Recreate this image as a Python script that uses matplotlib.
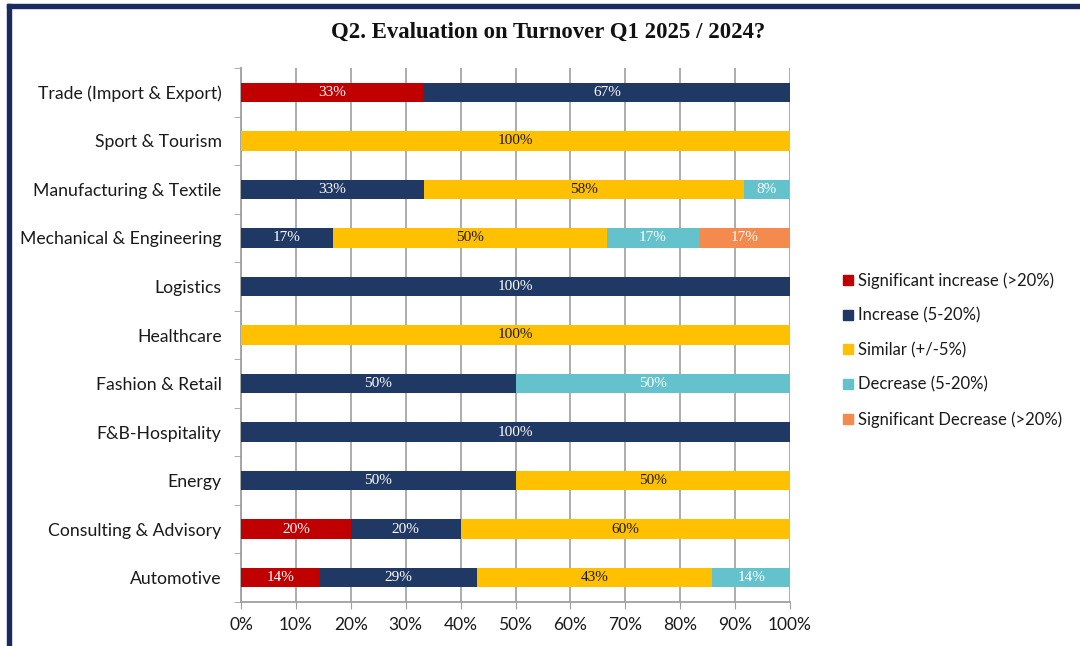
import matplotlib
matplotlib.use("Agg")
import matplotlib.pyplot as plt
from matplotlib.patches import Rectangle
from matplotlib.lines import Line2D
import numpy as np

categories = [
    "Trade (Import & Export)",
    "Sport & Tourism",
    "Manufacturing & Textile",
    "Mechanical & Engineering",
    "Logistics",
    "Healthcare",
    "Fashion & Retail",
    "F&B-Hospitality",
    "Energy",
    "Consulting & Advisory",
    "Automotive",
]

series_names = [
    "Significant increase (>20%)",
    "Increase (5-20%)",
    "Similar (+/-5%)",
    "Decrease (5-20%)",
    "Significant Decrease (>20%)",
]

sig_increase = [33.3, 0, 0, 0, 0, 0, 0, 0, 0, 20, 14.3]
increase = [66.7, 0, 33.3, 16.7, 100, 0, 50, 100, 50, 20, 28.6]
similar = [0, 100, 58.3, 50, 0, 100, 0, 0, 50, 60, 42.9]
decrease = [0, 0, 8.3, 16.7, 0, 0, 50, 0, 0, 0, 14.3]
sig_decrease = [0, 0, 0, 16.7, 0, 0, 0, 0, 0, 0, 0]

colors = ["#C00000", "#1F3864", "#FFC000", "#63C2CB", "#F58A4F"]
text_colors = ["white", "white", "#1a1a1a", "white", "white"]

x_ticks = [0, 10, 20, 30, 40, 50, 60, 70, 80, 90, 100]
x_tick_labels = [f"{t}%" for t in x_ticks]

label_font = "Lato"
value_font = "Liberation Serif"
ink = "#1a1a1a"

fig = plt.figure(figsize=(10.8, 6.46), dpi=100)
ax = fig.add_axes([241 / 1080, 1 - 602 / 646, 549 / 1080, 534 / 646])

y = np.arange(len(categories))
left = np.zeros(len(categories))
all_series = [sig_increase, increase, similar, decrease, sig_decrease]
for vals, name, col, tcol in zip(all_series, series_names, colors, text_colors):
    vals = np.array(vals, dtype=float)
    ax.barh(y, vals, left=left, height=0.4, color=col, label=name,
            zorder=3, linewidth=0)
    for yi, v, l in zip(y, vals, left):
        if v > 0:
            ax.text(l + v / 2, yi, f"{v:.0f}%", ha="center", va="center",
                    color=tcol, fontsize=11, family=value_font, zorder=4)
    left += vals

ax.set_xlim(0, 100)
ax.set_ylim(len(categories) - 0.5, -0.5)
ax.set_xticks(x_ticks)
ax.set_xticklabels(x_tick_labels, family=label_font, fontsize=12.5, color=ink)
ax.set_yticks(y)
ax.set_yticklabels(categories, family=label_font, fontsize=12.7, color=ink)
ax.set_yticks(np.arange(-0.5, len(categories), 1), minor=True)
ax.tick_params(axis="y", which="major", length=0, pad=14)
ax.tick_params(axis="y", which="minor", length=5, color="#a0a0a0", direction="out")
ax.tick_params(axis="x", which="major", length=5, color="#a0a0a0", pad=6)

ax.grid(axis="x", color="#a6a6a6", linewidth=1.3, zorder=0)
for s in ["top", "right"]:
    ax.spines[s].set_visible(False)
for s in ["left", "bottom"]:
    ax.spines[s].set_color("#a0a0a0")
    ax.spines[s].set_linewidth(1.3)

fig.text(548 / 1080, 1 - 32 / 646, "Q2. Evaluation on Turnover Q1 2025 / 2024?",
         ha="center", va="center", fontsize=16.4, fontweight="bold",
         family=value_font, color="#111111")

handles = [Line2D([0], [0], marker="s", linestyle="none", markersize=7,
                  markerfacecolor=c, markeredgecolor=c) for c in colors]
fig.legend(handles, series_names, loc="upper left",
           bbox_to_anchor=(833 / 1080, 1 - 266 / 646), frameon=False,
           prop={"family": label_font, "size": 12}, handletextpad=0.1,
           labelspacing=1.1, handlelength=1.0, borderaxespad=0,
           labelcolor=ink)

# navy frame along the top and left edges
fig.patches.append(Rectangle((7 / 1080, 1 - 8 / 646), 1 - 7 / 1080, 4 / 646,
                             transform=fig.transFigure, color="#1C2B5E"))
fig.patches.append(Rectangle((7 / 1080, 0), 4 / 1080, 1 - 4 / 646,
                             transform=fig.transFigure, color="#1C2B5E"))

fig.savefig("out.png", dpi=100)
